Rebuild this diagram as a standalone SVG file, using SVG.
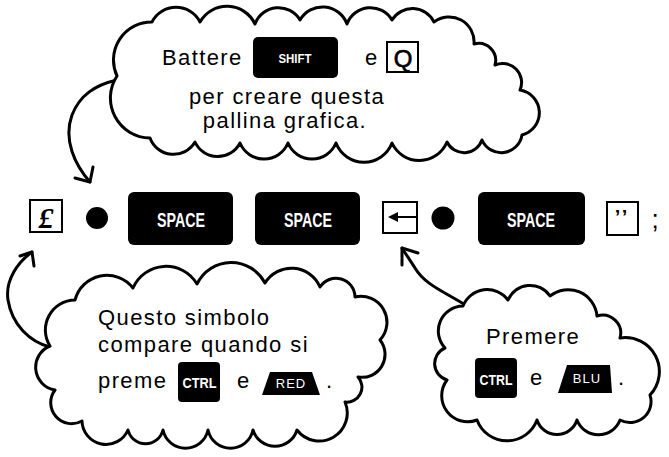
<svg xmlns="http://www.w3.org/2000/svg" width="669" height="457" viewBox="0 0 669 457">
<style>
.cloud{fill:#fff;stroke:#000;stroke-width:3;stroke-linejoin:round}
.arr{fill:none;stroke:#000;stroke-width:3;stroke-linecap:round;stroke-linejoin:round}
.t{font-family:"Liberation Sans",Arial,sans-serif;font-size:22px;letter-spacing:1.4px;fill:#000}
.k{fill:#000}
.kt{font-family:"Liberation Sans",Arial,sans-serif;font-weight:bold;fill:#fff;text-anchor:middle}
.box{fill:#fff;stroke:#000;stroke-width:2}
</style>
<rect width="669" height="457" fill="#fff"/>
<g id="connectors">
<path class="arr" d="M117,80 C95,85 80,95 72,115 C63,140 75,165 90,182"/>
<polyline class="arr" points="75,178 90,182 93,167"/>
<path class="arr" d="M50,347 C30,342 12,325 8,300 C5,280 18,262 32,252"/>
<polyline class="arr" points="20,256 32,252 34,266"/>
<path class="arr" d="M467,306 C445,292 425,285 415,268 C410,260 405,253 402,248"/>
<polyline class="arr" points="402,265 402,248 418,253"/>
</g>
<g id="cloud-top">
<path class="cloud" d="M117,76 A38,38 0 0 1 152,22 A27,27 0 0 1 200,22 A31,31 0 0 1 255,24 A25,25 0 0 1 300,20 A26,26 0 0 1 347,24 A25,25 0 0 1 392,20 A24,24 0 0 1 434,22 A25,25 0 0 1 474,44 A17,17 0 0 1 495,65 A19,19 0 0 1 520,90 A23,23 0 0 1 522,135 A21,21 0 0 1 482,140 A19,19 0 0 1 447,142 A30,30 0 0 1 392,143 A30,30 0 0 1 336,143 A26,26 0 0 1 288,143 A26,26 0 0 1 240,143 A25,25 0 0 1 195,142 A25,25 0 0 1 150,138 A40,40 0 0 1 117,76 Z"/>
<text class="t" x="162" y="65">Battere</text>
<rect class="k" x="253" y="37" width="85" height="41" rx="5"/>
<text class="kt" x="295" y="63" font-size="13" textLength="33" lengthAdjust="spacingAndGlyphs">SHIFT</text>
<text class="t" x="365" y="65">e</text>
<rect class="box" x="387" y="42" width="31" height="30"/>
<text x="403" y="67" font-family="Liberation Sans,Arial,sans-serif" font-size="24" text-anchor="middle" stroke="#000" stroke-width="0.7">Q</text>
<text class="t" x="287" y="104" text-anchor="middle">per creare questa</text>
<text class="t" x="285" y="128" text-anchor="middle">pallina grafica.</text>
</g>
<g id="row">
<rect class="box" x="30" y="200" width="32" height="32"/>
<text x="46" y="228" font-family="Liberation Serif,serif" font-style="italic" font-weight="bold" font-size="30" text-anchor="middle">£</text>
<circle cx="97" cy="218" r="11"/>
<rect class="k" x="128" y="192" width="105" height="53" rx="6"/>
<text class="kt" x="181" y="227" font-size="21" textLength="48" lengthAdjust="spacingAndGlyphs">SPACE</text>
<rect class="k" x="255" y="192" width="105" height="53" rx="6"/>
<text class="kt" x="308" y="227" font-size="21" textLength="48" lengthAdjust="spacingAndGlyphs">SPACE</text>
<rect class="box" x="383" y="202" width="34" height="31"/>
<line x1="395" y1="217" x2="417" y2="217" stroke="#000" stroke-width="2"/>
<polygon points="388,217 398,212 398,222"/>
<circle cx="443" cy="218" r="11.5"/>
<rect class="k" x="478" y="192" width="107" height="53" rx="6"/>
<text class="kt" x="531" y="227" font-size="21" textLength="48" lengthAdjust="spacingAndGlyphs">SPACE</text>
<rect class="box" x="607" y="202" width="31" height="33"/>
<text x="622" y="224" font-family="Liberation Sans,Arial,sans-serif" font-weight="bold" font-size="20" letter-spacing="2" text-anchor="middle">’’</text>
<text x="655" y="228" font-family="Liberation Sans,Arial,sans-serif" font-size="26" text-anchor="middle">;</text>
</g>
<g id="cloud-left">
<path class="cloud" d="M50,346 A30,30 0 0 1 75,300 A33,33 0 0 1 133,288 A36,36 0 0 1 197,284 A38,38 0 0 1 265,283 A31,31 0 0 1 320,287 A19,19 0 0 1 355,297 A26,26 0 0 1 380,340 A23,23 0 0 1 358,377 A15,15 0 0 1 345,402 A28,28 0 0 1 297,430 A23,23 0 0 1 253,430 A23,23 0 0 1 208,430 A23,23 0 0 1 163,430 A18,18 0 0 1 128,430 A24,24 0 0 1 82,421 A21,21 0 0 1 55,390 A23,23 0 0 1 50,346 Z"/>
<text class="t" x="98" y="325">Questo simbolo</text>
<text class="t" x="98" y="352">compare quando si</text>
<text class="t" x="98" y="388">preme</text>
<rect class="k" x="178" y="362" width="42" height="40" rx="4"/>
<text class="kt" x="199.5" y="388" font-size="15" textLength="34" lengthAdjust="spacingAndGlyphs">CTRL</text>
<text class="t" x="237" y="388">e</text>
<polygon class="k" points="270,372 312,372 320,395 262,395"/>
<text x="291" y="388" font-family="Liberation Sans,Arial,sans-serif" font-size="13" letter-spacing="1" fill="#fff" text-anchor="middle">RED</text>
<text class="t" x="326" y="388">.</text>
</g>
<g id="cloud-right">
<path class="cloud" d="M463,306 A26,26 0 0 1 508,300 A24,24 0 0 1 550,296 A29,29 0 0 1 597,316 A18,18 0 0 1 620,338 A34,34 0 0 1 650,395 A21,21 0 0 1 620,420 A23,23 0 0 1 577,420 A21,21 0 0 1 537,420 A32,32 0 0 1 477,420 A26,26 0 0 1 447,380 A17,17 0 0 1 445,348 A25,25 0 0 1 463,306 Z"/>
<text class="t" x="486" y="344">Premere</text>
<rect class="k" x="475" y="358" width="42" height="40" rx="4"/>
<text class="kt" x="496" y="385" font-size="15" textLength="33" lengthAdjust="spacingAndGlyphs">CTRL</text>
<text class="t" x="530" y="385">e</text>
<polygon class="k" points="567,365 610,365 612,393 558,393"/>
<text x="587" y="383" font-family="Liberation Sans,Arial,sans-serif" font-size="13" letter-spacing="1" fill="#fff" text-anchor="middle">BLU</text>
<text class="t" x="618" y="385">.</text>
</g>
</svg>
